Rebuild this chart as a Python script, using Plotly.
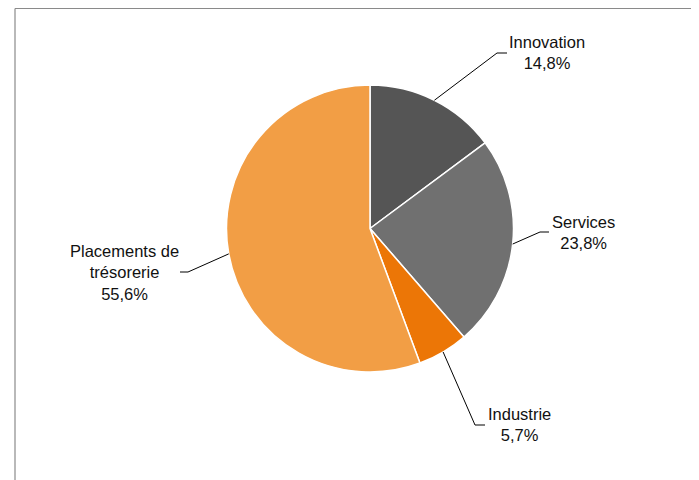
import math
import plotly.graph_objects as go

categories = ["Innovation", "Services", "Industrie", "Placements de trésorerie"]
values = [14.8, 23.8, 5.7, 55.6]
label_texts = ["Innovation<br>14,8%", "Services<br>23,8%", "Industrie<br>5,7%",
               "Placements de<br>trésorerie<br>55,6%"]
colors = ["#555555", "#707070", "#EC7606", "#F29E45"]

OFF = 8  # default page margin of the html body
W, H = 699 - OFF, 480 - OFF
CX, CY, R = 370.0, 228.5, 143.5

# label layout (pixel positions of elbow, line end and text centre)
elbows = [(497, 53), (540, 232), (475, 425), (188, 272)]
ends = [(507, 53), (549, 232), (485, 425), (180, 272)]
text_pos = [(547, 53), (583, 232), (519, 424), (124, 272)]


def px(x):
    return (x - OFF) / W


def py(y):
    return 1 - (y - OFF) / H


fig = go.Figure()
fig.add_trace(go.Pie(
    labels=categories, values=values, sort=False, direction="clockwise",
    rotation=0, textinfo="none", hoverinfo="label+percent",
    marker=dict(colors=colors, line=dict(color="white", width=1.5)),
    domain=dict(x=[px(CX - R), px(CX + R)], y=[py(CY + R), py(CY - R)]),
    showlegend=False,
))

total = sum(values)
cum = 0.0
shapes = []
annotations = []
for i, v in enumerate(values):
    mid = (cum + v / 2) / total * 2 * math.pi
    cum += v
    sx = CX + R * math.sin(mid)
    sy = CY - R * math.cos(mid)
    ex, ey = elbows[i]
    fx, fy = ends[i]
    shapes.append(dict(type="line", xref="paper", yref="paper",
                       x0=px(sx), y0=py(sy), x1=px(ex), y1=py(ey),
                       line=dict(color="black", width=1)))
    shapes.append(dict(type="line", xref="paper", yref="paper",
                       x0=px(ex), y0=py(ey), x1=px(fx), y1=py(fy),
                       line=dict(color="black", width=1)))
    tx, ty = text_pos[i]
    annotations.append(dict(x=px(tx), y=py(ty), xref="paper", yref="paper",
                            text=label_texts[i], showarrow=False,
                            xanchor="center", yanchor="middle", align="center",
                            font=dict(size=16.5, color="#111111",
                                      family="Liberation Sans, Arial, sans-serif")))

# chart frame (partially visible)
shapes.append(dict(type="line", xref="paper", yref="paper",
                   x0=px(15), y0=py(8.5), x1=px(699), y1=py(8.5),
                   line=dict(color="#8a8a8a", width=1.2)))
shapes.append(dict(type="line", xref="paper", yref="paper",
                   x0=px(15), y0=py(8.5), x1=px(15), y1=py(480),
                   line=dict(color="#8a8a8a", width=1.2)))

fig.update_layout(
    width=W, height=H, margin=dict(l=0, r=0, t=0, b=0),
    paper_bgcolor="white", plot_bgcolor="white",
    shapes=shapes, annotations=annotations,
    font=dict(family="Liberation Sans, Arial, sans-serif"),
)

fig.write_html("out.html")
